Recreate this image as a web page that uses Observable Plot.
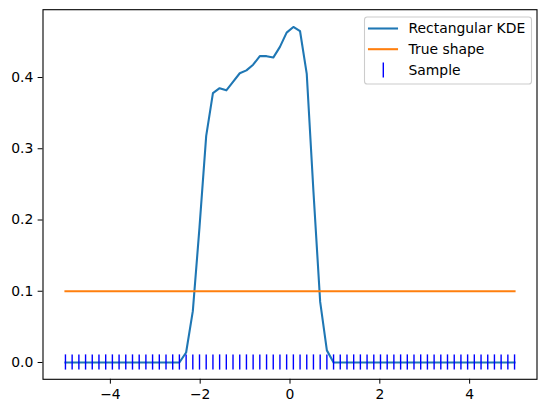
<!DOCTYPE html>
<html>
<head>
<meta charset="utf-8">
<script src="https://cdn.jsdelivr.net/npm/d3@7"></script>
<script src="https://cdn.jsdelivr.net/npm/@observablehq/plot@0.6"></script>
<style>
  html, body { margin: 0; padding: 0; background: #fff; }
  #chart svg { display: block; }
</style>
</head>
<body>
<div id="chart"></div>
<script>
// Evaluation grid of the KDE (also the sample positions)
const grid = [-5.000, -4.851, -4.701, -4.552, -4.403, -4.254, -4.104, -3.955, -3.806, -3.657,
  -3.507, -3.358, -3.209, -3.060, -2.910, -2.761, -2.612, -2.463, -2.313, -2.164,
  -2.015, -1.866, -1.716, -1.567, -1.418, -1.269, -1.119, -0.970, -0.821, -0.672,
  -0.522, -0.373, -0.224, -0.075, 0.075, 0.224, 0.373, 0.522, 0.672, 0.821,
  0.970, 1.119, 1.269, 1.418, 1.567, 1.716, 1.866, 2.015, 2.164, 2.313,
  2.463, 2.612, 2.761, 2.910, 3.060, 3.209, 3.358, 3.507, 3.657, 3.806,
  3.955, 4.104, 4.254, 4.403, 4.552, 4.701, 4.851, 5.000];

// Rectangular KDE values
const kdeValues = [0, 0, 0, 0, 0, 0, 0, 0, 0, 0,
  0, 0, 0, 0, 0, 0, 0, 0, 0.014, 0.072,
  0.190, 0.318, 0.378, 0.385, 0.382, 0.394, 0.406, 0.410, 0.418, 0.430,
  0.430, 0.428, 0.443, 0.463, 0.471, 0.465, 0.405, 0.240, 0.085, 0.017,
  0, 0, 0, 0, 0, 0, 0, 0, 0, 0,
  0, 0, 0, 0, 0, 0, 0, 0, 0, 0,
  0, 0, 0, 0, 0, 0, 0, 0];

// True shape (uniform density on [-5, 5])
const trueX = [-5, 5];
const trueY = [0.1, 0.1];

// Sample positions
const sample = [-5.000, -4.851, -4.701, -4.552, -4.403, -4.254, -4.104, -3.955, -3.806, -3.657,
  -3.507, -3.358, -3.209, -3.060, -2.910, -2.761, -2.612, -2.463, -2.313, -2.164,
  -2.015, -1.866, -1.716, -1.567, -1.418, -1.269, -1.119, -0.970, -0.821, -0.672,
  -0.522, -0.373, -0.224, -0.075, 0.075, 0.224, 0.373, 0.522, 0.672, 0.821,
  0.970, 1.119, 1.269, 1.418, 1.567, 1.716, 1.866, 2.015, 2.164, 2.313,
  2.463, 2.612, 2.761, 2.910, 3.060, 3.209, 3.358, 3.507, 3.657, 3.806,
  3.955, 4.104, 4.254, 4.403, 4.552, 4.701, 4.851, 5.000];

const xTicks = [-4, -2, 0, 2, 4];
const yTicks = [0.0, 0.1, 0.2, 0.3, 0.4];

const legendItems = [
  {label: "Rectangular KDE", color: "#1f77b4", kind: "line"},
  {label: "True shape", color: "#ff7f0e", kind: "line"},
  {label: "Sample", color: "#0000ff", kind: "tick"}
];

const kdeData = grid.map((x, i) => ({x, y: kdeValues[i]}));
const trueData = trueX.map((x, i) => ({x, y: trueY[i]}));

const W = 547, H = 413;
const plot = Plot.plot({
  width: W,
  height: H,
  marginLeft: 42.5,
  marginRight: 10.5,
  marginTop: 9.2,
  marginBottom: 34.2,
  style: {fontFamily: "DejaVu Sans", fontSize: "13.9px", color: "#000", background: "#fff", overflow: "visible"},
  x: {domain: [-5.5, 5.5], ticks: xTicks, tickFormat: d3.format("d"), tickSize: 4.86, tickPadding: 4.86, label: null},
  y: {domain: [-0.0236, 0.4952], ticks: yTicks, tickFormat: d3.format(".1f"), tickSize: 4.86, tickPadding: 4.86, label: null},
  marks: [
    Plot.line(kdeData, {x: "x", y: "y", stroke: "#1f77b4", strokeWidth: 2.08, strokeLinejoin: "round", strokeLinecap: "square"}),
    Plot.line(trueData, {x: "x", y: "y", stroke: "#ff7f0e", strokeWidth: 2.08, strokeLinecap: "square"}),
    Plot.ruleX(sample, {x: d => d, y1: 0, y2: 0, insetTop: -7.6, insetBottom: -7.6, stroke: "#0000ff", strokeWidth: 1.4}),
    Plot.frame({stroke: "#000", strokeWidth: 1.1})
  ]
});

document.getElementById("chart").appendChild(plot);

// Legend (matplotlib-like, upper right)
const svg = d3.select(plot);
const lg = svg.append("g")
  .attr("font-family", "DejaVu Sans")
  .attr("font-size", "13.9px")
  .attr("text-anchor", "start");
lg.append("rect")
  .attr("x", 364.5).attr("y", 17).attr("width", 167).attr("height", 67)
  .attr("rx", 2.8).attr("ry", 2.8)
  .attr("fill", "#fff").attr("fill-opacity", 0.8)
  .attr("stroke", "#cccccc").attr("stroke-width", 1.1);
const rowY = [28.5, 49.2, 70];
legendItems.forEach((it, i) => {
  const y = rowY[i];
  if (it.kind === "line") {
    lg.append("line").attr("x1", 369).attr("x2", 397).attr("y1", y).attr("y2", y)
      .attr("stroke", it.color).attr("stroke-width", 2.08).attr("stroke-linecap", "square");
  } else {
    lg.append("line").attr("x1", 383.3).attr("x2", 383.3).attr("y1", y - 7.6).attr("y2", y + 7.6)
      .attr("stroke", it.color).attr("stroke-width", 1.4);
  }
  lg.append("text").attr("x", 408.5).attr("y", y).attr("dy", "0.35em")
    .attr("text-anchor", "start")
    .attr("fill", "#000").text(it.label);
});
</script>
</body>
</html>
